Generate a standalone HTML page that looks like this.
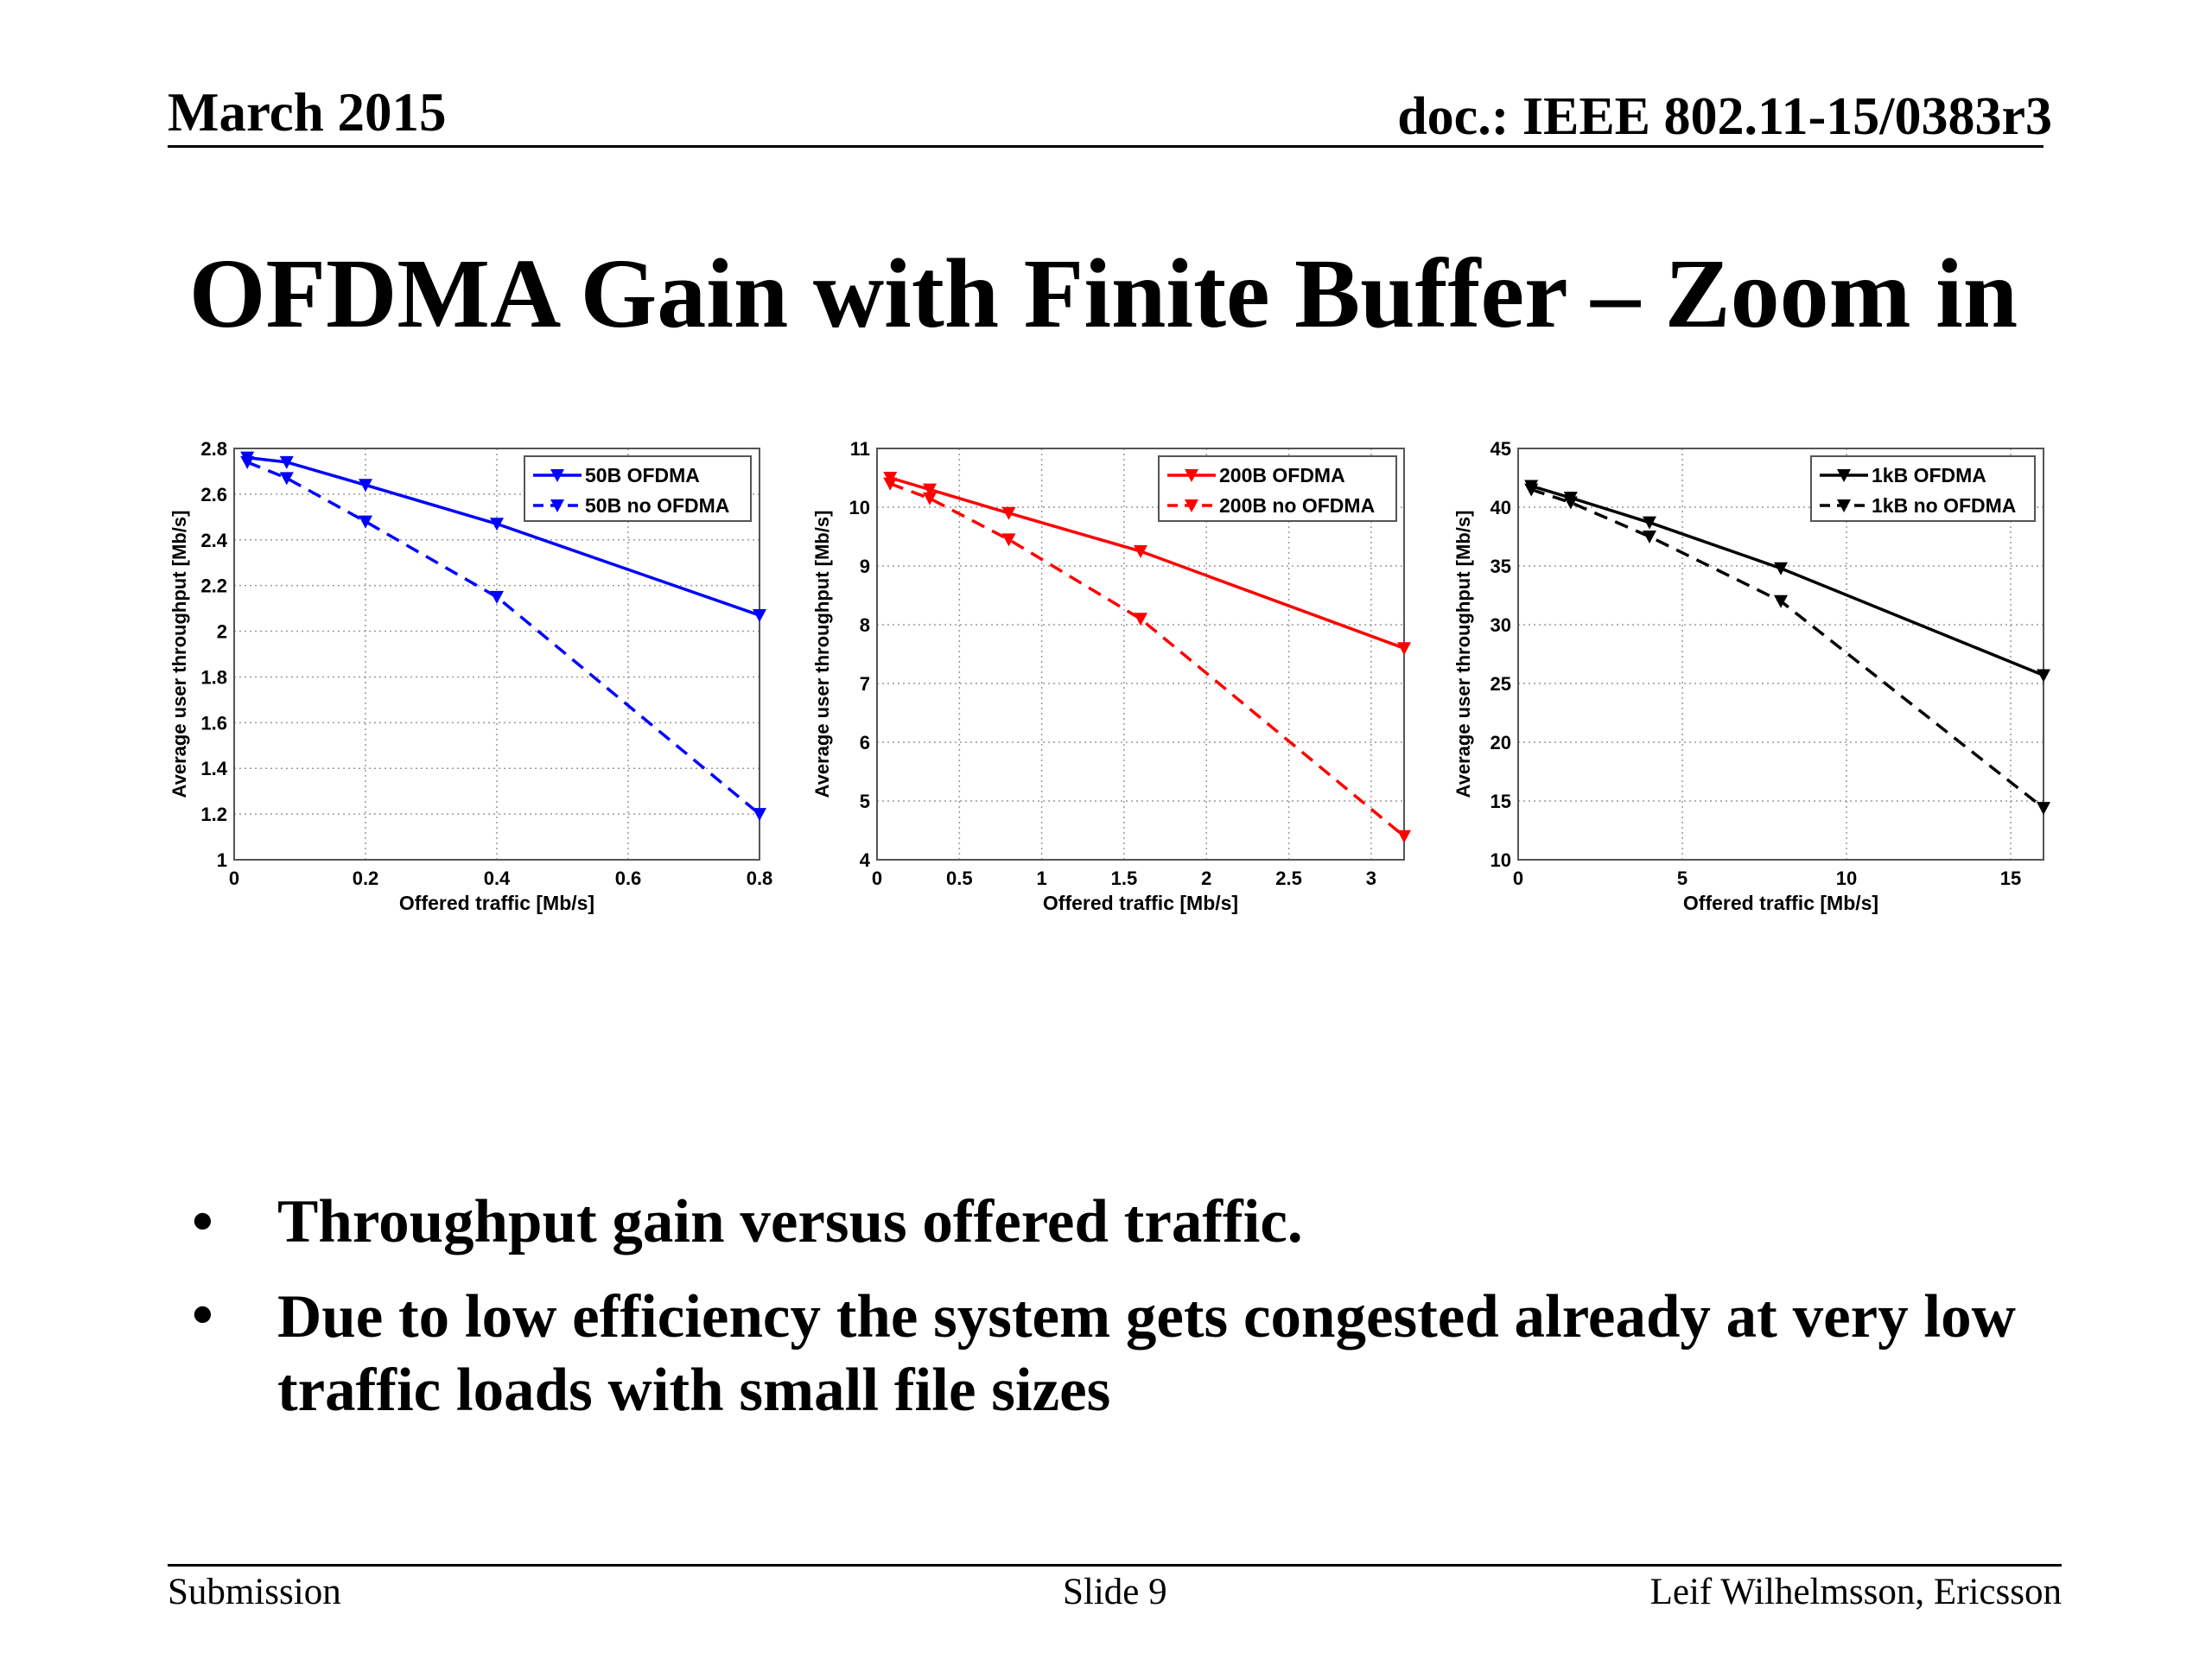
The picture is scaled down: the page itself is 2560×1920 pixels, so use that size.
<!DOCTYPE html>
<html><head><meta charset="utf-8"><style>
body{margin:0;background:#fff;}
#root{position:relative;width:2560px;height:1920px;overflow:hidden;background:#fff;font-family:"Liberation Serif",serif;}
.t{position:absolute;white-space:nowrap;color:#000;}
</style></head><body>
<div id="root">
<div class="t" style="left:194px;top:94px;font-size:63px;font-weight:bold;">March 2015</div>
<div class="t" style="right:185px;top:100px;font-size:62px;font-weight:bold;">doc.: IEEE 802.11-15/0383r3</div>
<div style="position:absolute;left:194px;top:168px;width:2171px;height:3px;background:#000;"></div>
<div class="t" style="left:0;width:2554px;text-align:center;top:274px;font-size:114px;font-weight:bold;">OFDMA Gain with Finite Buffer – Zoom in</div>
<svg id="charts" width="2560" height="1920" style="position:absolute;left:0;top:0;"></svg>
<div class="t" style="left:222px;top:1374px;font-size:71px;font-weight:bold;">•</div>
<div class="t" style="left:321px;top:1374px;font-size:71px;font-weight:bold;">Throughput gain versus offered traffic.</div>
<div class="t" style="left:222px;top:1482px;font-size:71px;font-weight:bold;">•</div>
<div class="t" style="left:321px;top:1482px;font-size:71px;font-weight:bold;line-height:85px;">Due to low efficiency the system gets congested already at very low<br>traffic loads with small file sizes</div>
<div style="position:absolute;left:194px;top:1810px;width:2192px;height:3px;background:#000;"></div>
<div class="t" style="left:194px;top:1818px;font-size:43px;">Submission</div>
<div class="t" style="left:1230px;top:1818px;font-size:43px;">Slide 9</div>
<div class="t" style="right:174px;top:1818px;font-size:43px;">Leif Wilhelmsson, Ericsson</div>
</div>
<script>
// chart 1 (50B)
const c1X=[0.02,0.08,0.2,0.4,0.8];
const c1Ofdma=[2.76,2.74,2.64,2.47,2.07];
const c1NoOfdma=[2.74,2.67,2.48,2.15,1.2];
const c1XTicks=["0","0.2","0.4","0.6","0.8"];
const c1YTicks=["1","1.2","1.4","1.6","1.8","2","2.2","2.4","2.6","2.8"];
// chart 2 (200B)
const c2X=[0.08,0.32,0.8,1.6,3.2];
const c2Ofdma=[10.5,10.3,9.9,9.25,7.6];
const c2NoOfdma=[10.4,10.15,9.45,8.1,4.4];
const c2XTicks=["0","0.5","1","1.5","2","2.5","3"];
const c2YTicks=["4","5","6","7","8","9","10","11"];
// chart 3 (1kB)
const c3X=[0.4,1.6,4,8,16];
const c3Ofdma=[41.8,40.8,38.7,34.8,25.7];
const c3NoOfdma=[41.5,40.4,37.5,32,14.4];
const c3XTicks=["0","5","10","15"];
const c3YTicks=["10","15","20","25","30","35","40","45"];

const NS="http://www.w3.org/2000/svg";
const svg=document.getElementById('charts');
function mk(tag,attrs,parent){const e=document.createElementNS(NS,tag);for(const k in attrs)e.setAttribute(k,attrs[k]);(parent||svg).appendChild(e);return e;}

function chart(id,L,R,xmax,ymin,ymax,xs,s1,s2,xt,yt,color,names,legX,legW){
  const T=519,B=995;
  const g=mk('g',{});
  
  
  const sx=v=>L+(v/xmax)*(R-L);
  const sy=v=>B-(v-ymin)/(ymax-ymin)*(B-T);
  const f='font-family:"Liberation Sans",sans-serif;font-weight:bold;';
  xt.forEach(t=>{const v=+t;const x=sx(v);
    if(v>0&&x<R-2){const gl=mk('line',{x1:x,y1:T,x2:x,y2:B,stroke:'#999','stroke-width':1.5,'stroke-dasharray':'2 4'},g);}
    const tx=mk('text',{x:x,y:B+29,'text-anchor':'middle',style:f+'font-size:22px'},g);tx.textContent=t;
    });
  yt.forEach(t=>{const v=+t;const y=sy(v);
    if(v>ymin&&v<ymax){const gl=mk('line',{x1:L,y1:y,x2:R,y2:y,stroke:'#999','stroke-width':1.5,'stroke-dasharray':'2 4'},g);}
    const tx=mk('text',{x:L-8,y:y+8,'text-anchor':'end',style:f+'font-size:22px'},g);tx.textContent=t;
    });
  const fr=mk('rect',{x:L,y:T,width:R-L,height:B-T,fill:'none',stroke:'#555','stroke-width':2},g);
  
  const xl=mk('text',{x:(L+R)/2,y:B+58,'text-anchor':'middle',style:f+'font-size:23px'},g);xl.textContent='Offered traffic [Mb/s]';
  
  const yl=mk('text',{x:0,y:0,'text-anchor':'middle',transform:`translate(${L-56},${(T+B)/2}) rotate(-90)`,style:f+'font-size:22px'},g);yl.textContent='Average user throughput [Mb/s]';
  
  function tri(x,y,parent){const m=mk('path',{d:`M${x-8},${y-7}L${x+8},${y-7}L${x},${y+8}Z`,fill:color},parent);return m;}
  [[s1,'none','series-ofdma'],[s2,'16 10','series-no-ofdma']].forEach(([s,da,nm])=>{
    const sg=mk('g',{},g);
    const pts=xs.map((x,i)=>sx(x)+','+sy(s[i])).join(' ');
    const pl=mk('polyline',{points:pts,fill:'none',stroke:color,'stroke-width':3.5,'stroke-dasharray':da},sg);
    
    xs.forEach((x,i)=>{const m=tri(sx(x),sy(s[i]),sg);});
  });
  const lg=mk('g',{},g);
  mk('rect',{x:legX,y:528,width:legW,height:75,fill:'#fff',stroke:'#555','stroke-width':2},lg);
  [[names[0],'none',550],[names[1],'12 8',585]].forEach(([n,da,y])=>{
    const e=mk('g',{},lg);
    mk('line',{x1:legX+10,y1:y,x2:legX+66,y2:y,stroke:color,'stroke-width':3.5,'stroke-dasharray':da},e);
    tri(legX+38,y,e);
    const t=mk('text',{x:legX+70,y:y+8,style:f+'font-size:23px'},e);t.textContent=n;
  });
}
chart('chart-50b',271,879,0.8,1,2.8,c1X,c1Ofdma,c1NoOfdma,c1XTicks,c1YTicks,'#0000ff',['50B OFDMA','50B no OFDMA'],607,262);
chart('chart-200b',1015,1625,3.2,4,11,c2X,c2Ofdma,c2NoOfdma,c2XTicks,c2YTicks,'#ff0000',['200B OFDMA','200B no OFDMA'],1341,275);
chart('chart-1kb',1757,2365,16,10,45,c3X,c3Ofdma,c3NoOfdma,c3XTicks,c3YTicks,'#000000',['1kB OFDMA','1kB no OFDMA'],2096,259);
</script>
</body></html>
